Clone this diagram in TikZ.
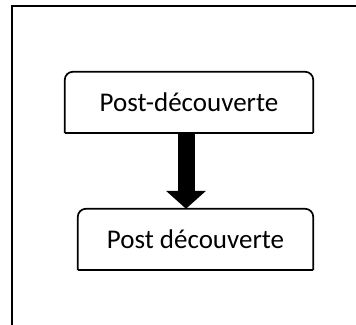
\documentclass[tikz,border=0pt]{standalone}
\usepackage{fontspec}
\setmainfont{Carlito}
\usetikzlibrary{arrows.meta}

\tikzset{
  stepbox/.style={minimum height=61pt, inner sep=0pt, font=\fontsize{27}{30}\selectfont},
  boxline/.style={line width=1.7pt, rounded corners=8pt},
  blockarrow/.style={line width=17pt, -{Triangle[width=39pt,length=18pt]}}
}

\begin{document}
\begin{tikzpicture}[x=1pt,y=-1pt]

\useasboundingbox (0,0) rectangle (356,324);
\draw[line width=2.6pt] (12,340) -- (12,6) -- (360,6);

\node[stepbox, minimum width=248pt] (postA) at (189,102.5) {Post-découverte};
\node[stepbox, minimum width=235pt] (postB) at (195.5,239.5) {Post découverte};

% boxes: rounded on top only
\draw[boxline] (postA.south west) -- (postA.north west) -- (postA.north east) -- (postA.south east);
\draw[line width=1.7pt] (postA.south east) -- (postA.south west);
\draw[boxline] (postB.south west) -- (postB.north west) -- (postB.north east) -- (postB.south east);
\draw[line width=1.7pt] (postB.south east) -- (postB.south west);

\draw[blockarrow] ([xshift=-3pt]postA.south) -- ([xshift=-3pt]postA.south |- postB.north);

\end{tikzpicture}
\end{document}
